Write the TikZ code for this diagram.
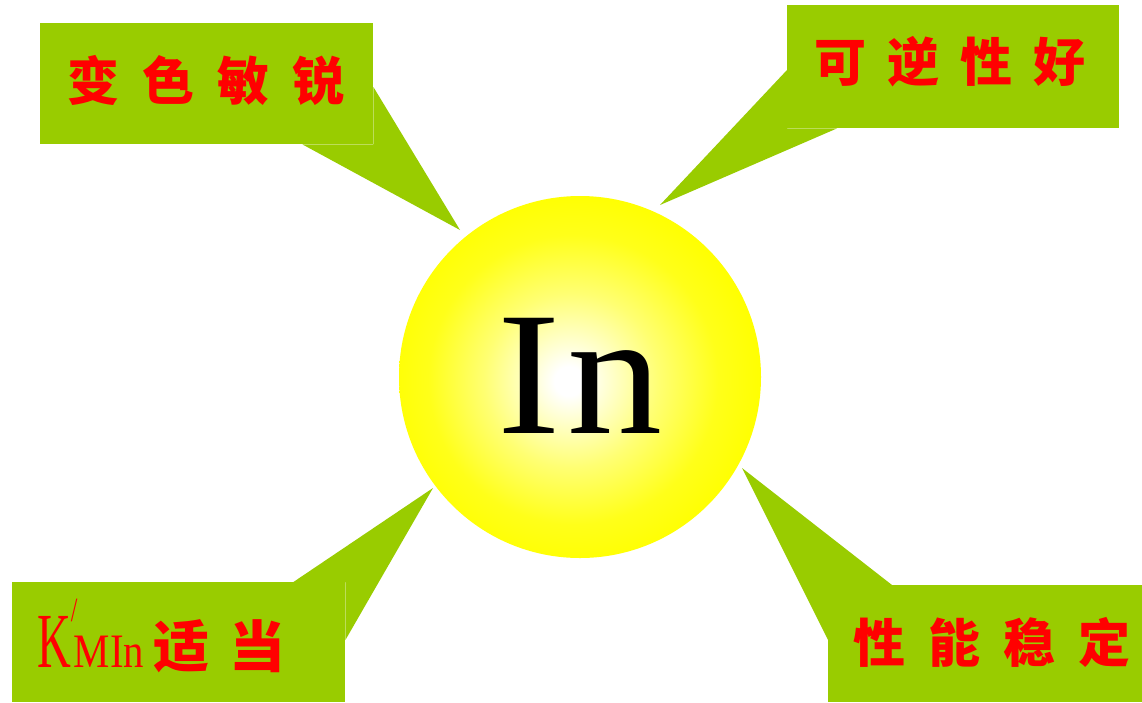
\documentclass[tikz,border=0pt]{standalone}
\usepackage{fontspec}
\newfontfamily\cjk{Noto Sans CJK SC}
\newfontfamily\latinserif{Liberation Serif}
\usetikzlibrary{calc}
\definecolor{leaf}{RGB}{153,204,0}
\definecolor{ink}{RGB}{255,0,0}
\pgfdeclareradialshading{ballshade}{\pgfpoint{-1.6bp}{-0.6bp}}{color(0bp)=(white); color(2bp)=(white); color(12bp)=(yellow!55!white); color(20bp)=(yellow!90!white); color(26bp)=(yellow); color(50bp)=(yellow)}
\begin{document}
\begin{tikzpicture}[x=1pt,y=-1pt,
  box/.style={fill=leaf, draw=none, inner sep=0pt, anchor=north west},
  tail/.style={fill=leaf, draw=none},
  label/.style={text=ink, inner sep=0pt, font=\cjk\bfseries\fontsize{52}{52}\selectfont}]
\useasboundingbox (0,0) rectangle (1142,702);
\fill[white] (0,0) rectangle (1142,702);

% boxes
\node[box, minimum width=333pt, minimum height=121pt] (b1) at (40,23) {};
\node[box, minimum width=332pt, minimum height=123pt] (b2) at (787,5) {};
\node[box, minimum width=333pt, minimum height=120pt] (b3) at (12,582) {};
\node[box, minimum width=314pt, minimum height=117pt] (b4) at (828,585) {};

% tips
\coordinate (t1) at (460,230);
\coordinate (t2) at (660,205);
\coordinate (t3) at (433,488);
\coordinate (t4) at (742,468);

% tails
\fill[tail] ($(b1.north east)+(0,64)$) -- (t1) -- ($(b1.south east)+(-71,0)$) -- (b1.south east) -- cycle;
\fill[tail] ($(b2.north west)+(0,65)$) -- (t2) -- ($(b2.south west)+(50,0)$) -- (b2.south west) -- cycle;
\fill[tail] ($(b3.north east)+(-52,0)$) -- (t3) -- ($(b3.north east)+(0,58)$) -- (b3.north east) -- cycle;
\fill[tail] ($(b4.north west)+(64,0)$) -- (t4) -- ($(b4.north west)+(0,55)$) -- (b4.north west) -- cycle;

% central ball
\node[circle, minimum size=362pt, inner sep=0pt, shading=ballshade] (ball) at (580,377) {};
\node[inner sep=0pt, font=\latinserif\fontsize{176}{176}\selectfont] (in) at (580,376) {\scalebox{1.08}[1]{I\hspace{6pt}n}};

% labels
\node[label] (l1) at (206,80) {变\hspace{23pt}色\hspace{23pt}敏\hspace{23pt}锐};
\node[label] (l2) at (950,62) {可\hspace{21pt}逆\hspace{21pt}性\hspace{21pt}好};
\node[label] (l4) at (992,642) {性\hspace{23pt}能\hspace{23pt}稳\hspace{23pt}定};
\node[text=ink, inner sep=0pt, anchor=base west] (l3) at (37,667)
  {{\latinserif\fontsize{78}{78}\selectfont\scalebox{0.6}[1]{K}}\makebox[0pt][l]{\raisebox{46pt}{\latinserif\fontsize{34}{34}\selectfont\scalebox{0.7}[1]{/}}}\hspace{3pt}{\latinserif\fontsize{48}{48}\selectfont\scalebox{0.85}[1]{MIn}}\hspace{9pt}{\cjk\bfseries\fontsize{56}{56}\selectfont 适\hspace{20pt}当}};
\end{tikzpicture}
\end{document}
